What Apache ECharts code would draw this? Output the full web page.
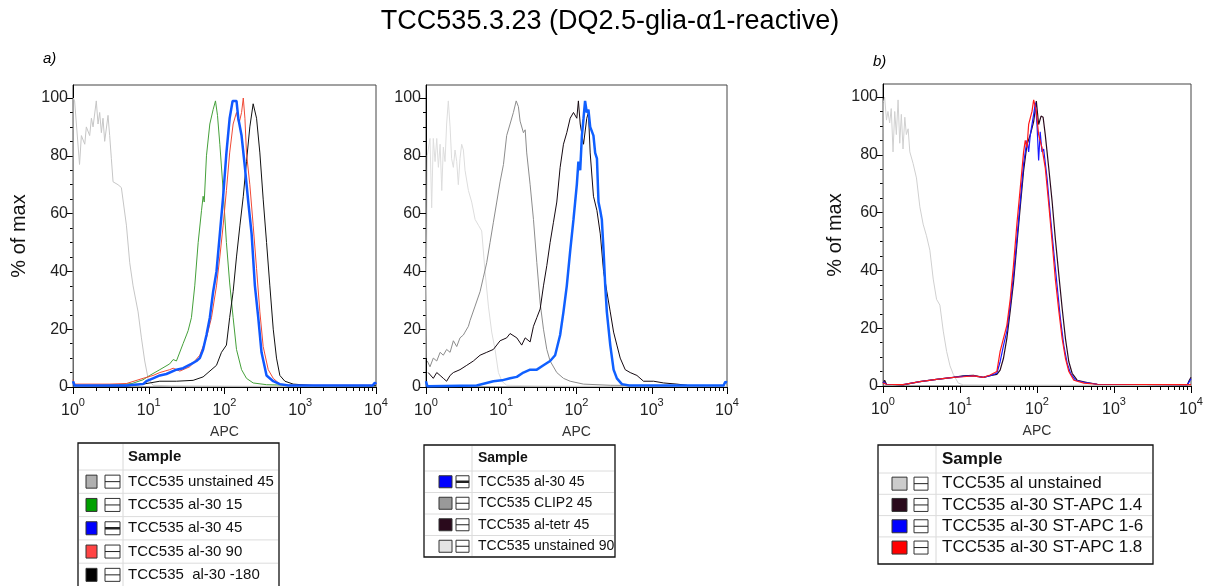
<!DOCTYPE html>
<html><head><meta charset="utf-8">
<script src="https://cdn.jsdelivr.net/npm/echarts@6/dist/echarts.min.js"></script>
<style>html,body{margin:0;padding:0;background:#fff}#c{width:1208px;height:586px}</style>
</head><body><div id="c"></div>
<script>
const FONT = 'Liberation Sans, Arial, Helvetica, sans-serif';
const titleText = 'TCC535.3.23 (DQ2.5-glia-\u03b11-reactive)';
const panelLabels = ['a)', 'b)'];
const xAxisName = 'APC';
const yAxisName = '% of max';
const legendHeader = 'Sample';
const xTickValues = [1, 10, 100, 1000, 10000];
const xMinorTicks = [2,3,4,5,6,7,8,9,20,30,40,50,60,70,80,90,200,300,400,500,600,700,800,900,2000,3000,4000,5000,6000,7000,8000,9000];
const yTickValues = [0, 20, 40, 60, 80, 100];
const yMinorTicks = [5,10,15,25,30,35,45,50,55,65,70,75,85,90,95];

// ---------- panel a (left) ----------
const p1Names = ['TCC535 unstained 45', 'TCC535 al-30 15', 'TCC535 al-30 45', 'TCC535 al-30 90', 'TCC535  al-30 -180'];
const p1Swatch = ['#b0b0b0', '#00a000', '#0000ff', '#ff4444', '#000000'];
const p1_unst45 = [[1,0],[1.01,100],[1.05,99],[1.22,77],[1.29,87],[1.43,84],[1.5,90],[1.66,87],[1.75,93],[1.84,90],[2.03,99],[2.14,91],[2.25,95],[2.37,88],[2.49,93],[2.62,85],[2.9,94],[3.05,87],[3.21,79],[3.38,71],[3.93,70],[4.35,69],[5.07,56],[5.61,43],[6.21,35],[7.23,26],[8.0,17],[8.85,9],[9.79,3],[11.4,0.6],[20,0.4],[100,0.3],[1000,0.2],[10000,0.2]];
const p1_al30_15 = [[1,2],[1.05,0.6],[2,0.6],[4,0.8],[6,1.2],[8.41,2.5],[10.3,4],[14,6],[18.9,8],[21,9.5],[23.2,9],[28.4,15],[31.5,18],[33.1,19.5],[36.6,24],[40.5,35],[44.9,50],[49.7,61],[52.2,66],[54,64],[57.8,80],[64,91],[70.8,96],[76,99],[80.8,94],[86.8,84],[96,68],[106,50],[117,36],[130,24],[144,13],[168,6],[195,3],[239,1.4],[359,0.8],[1000,0.5],[10000,0.5]];
const p1_al30_90 = [[1,2.5],[1.05,1],[3,1],[5.07,1.2],[8.41,3],[11.4,4],[14,5],[18.9,6],[21,6.5],[25.7,5.5],[34.8,7],[47.2,11],[57.8,17],[67.3,24],[78.4,35],[86.8,45],[96,56],[106,68],[117,81],[130,91],[144,95],[155,91],[168,95],[177,100],[186,93],[195,81],[216,70],[239,56],[265,41],[293,26],[324,14],[378,6],[440,3],[538,1],[700,0.6],[9000,0.6],[9700,1.6],[10000,0.8]];
const p1_al30_180 = [[1,0.5],[5.07,0.3],[8.41,1],[14,2],[23.2,2],[38.5,2.3],[52.2,3.5],[78.4,7.5],[91.2,12],[106,14.5],[117,24],[130,33],[144,45],[160,56],[177,66],[195,78],[216,90],[239,98],[252,98],[265,93],[293,81],[324,65],[359,50],[397,35],[440,20],[486,10],[538,4],[627,2],[808,1],[1500,0.5],[10000,0.4]];
const p1_al30_45 = [[1,2],[1.05,0.5],[5,0.5],[8.41,1],[9.31,2],[11.4,3],[14,4],[17.1,4.5],[23.2,6],[28.4,6.5],[36.6,8],[42.6,9],[47.2,10],[52.2,13],[57.8,18],[64,24],[70.8,33],[78.4,40],[86.8,53],[96,66],[106,81],[117,93],[128,99],[144,99],[152,93],[168,87],[186,76],[206,64],[228,53],[252,35],[279,24],[308,12],[359,4],[440,2],[538,1],[700,0.5],[9000,0.5],[9700,1.5],[10000,1]];

// ---------- panel a (middle) ----------
const p2Names = ['TCC535 al-30 45', 'TCC535 CLIP2 45', 'TCC535 al-tetr 45', 'TCC535 unstained 90'];
const p2Swatch = ['#0000ff', '#999999', '#2a0a1c', '#e4e4e4'];
const p2_unst90 = [[1,10],[1.04,80],[1.13,86],[1.19,62],[1.25,86],[1.32,78],[1.39,86],[1.46,76],[1.54,84],[1.62,68],[1.7,83],[1.79,78],[1.88,91],[1.98,99],[2.09,90],[2.19,79],[2.31,76],[2.43,82],[2.56,78],[2.69,70],[2.83,79],[2.98,84],[3.14,82],[3.3,75],[3.66,68],[4.05,64],[4.49,58],[4.97,56],[5.5,54],[6.09,40],[6.75,28],[7.47,19],[8.27,13],[9.17,5],[10.2,2],[11.8,0.6],[30,0.4],[100,0.3],[1000,0.3],[10000,0.3]];
const p2_clip2 = [[1.04,9],[1.13,7],[1.25,10],[1.39,9],[1.54,12],[1.7,11],[1.88,13],[2.09,12],[2.31,16],[2.56,14],[2.83,17],[3.14,18],[3.3,19],[3.66,21],[3.85,23],[4.49,28],[5.23,33],[5.79,38],[6.41,43],[7.1,50],[7.86,57],[8.71,64],[9.65,71],[10.7,77],[11.8,87],[13.1,91],[14.5,95],[15.8,99],[16.9,97],[17.8,92],[19.7,88],[20.8,89],[21.8,81],[24.2,70],[26.8,58],[29.7,43],[32.9,29],[36.4,20],[40.3,13],[44.6,9],[54.7,5],[67.1,3],[82.4,2],[124,1],[281,0.6],[1000,0.5]];
const p2_altetr = [[1.07,5],[1.25,3],[1.39,5],[1.54,4],[1.7,3],[1.88,2],[2.09,4],[2.31,5],[2.83,6],[3.48,7.5],[4.26,9],[5.23,11],[6.41,12],[7.86,13],[9.65,16],[11.8,17],[13.1,18.5],[16.1,17],[18.7,14.5],[20.8,17],[24.2,15.6],[26.8,21],[29.7,24],[32.9,27],[36.4,35],[40.3,42],[44.6,50],[49.4,57],[54.7,64],[60.6,76],[67.1,84],[74.3,88],[82.4,93],[91.2,95],[101,93],[106,99],[112,91],[124,84],[137,93],[144,95],[152,81],[168,66],[187,61],[207,53],[229,40],[253,33],[281,26],[311,19],[344,14.5],[381,10],[444,6],[517,5],[635,4],[778,2],[1060,2],[1440,1.4],[2160,1],[2940,0.6]];
const p2_al30_45 = [[1,2],[1.04,0.3],[4.72,0.5],[7.86,2],[10.2,2.3],[13.1,3],[16.1,3.5],[19.7,5],[24.2,6],[29.7,6],[36.4,7.5],[44.6,9],[52,11],[60.6,18],[67.1,26],[74.3,35],[82.4,47],[91.2,58],[101,70],[106,78],[112,75],[118,87],[124,93],[130,99],[137,95],[144,96],[152,90],[168,87],[177,81],[187,79],[196,64],[207,61],[217,58],[229,47],[241,35],[253,26],[281,14.5],[311,6],[344,3],[401,1],[500,0.5],[9000,0.5],[9500,1.8],[10000,1.5]];

// ---------- panel b ----------
const p3Names = ['TCC535 al unstained', 'TCC535 al-30 ST-APC 1.4', 'TCC535 al-30 ST-APC 1-6', 'TCC535 al-30 ST-APC 1.8'];
const p3Swatch = ['#cccccc', '#2a0a1c', '#0000ff', '#ff0000'];
const p3_unst = [[1,0],[1.01,98],[1.05,100],[1.11,92],[1.16,95],[1.22,91],[1.28,96],[1.35,81],[1.42,95],[1.49,87],[1.57,99],[1.65,84],[1.73,94],[1.82,82],[1.92,93],[2.01,87],[2.12,89],[2.23,81],[2.46,77],[2.72,72],[3.01,62],[3.32,56],[3.67,52],[4.06,47],[4.49,37],[4.96,30],[5.48,28],[6.06,19],[6.7,12],[7.41,7],[8.19,4],[9.51,1],[11,0.4],[100,0.3],[10000,0.3]];
const p3_st14 = [[1,1],[1.05,2],[1.11,0.6],[1.82,0.4],[3.01,1.5],[4.96,2.3],[8.19,3],[11,3.5],[14.9,3.7],[20.1,3],[24.6,3.6],[30.1,4],[33.2,5.5],[36.7,9.6],[40.6,16.5],[44.9,26],[49.6,36],[54.8,49],[60.6,62],[67,74.5],[74.1,83.5],[81.9,87],[90.5,91.5],[98,98.6],[105,90.5],[113,93.4],[120,93],[128,87],[142,75.5],[157,64],[173,51],[192,38.5],[212,27],[234,16.5],[259,8.4],[286,4.4],[332,2],[449,1.2],[606,0.6],[9000,0.5],[9510,2],[10000,3]];
const p3_st16 = [[1,1.5],[1.05,2],[1.11,0.6],[1.82,0.5],[3.01,1.5],[4.96,2.3],[8.19,3],[11,3.3],[14.9,3.5],[20.1,3],[24.6,3.6],[30.1,4.4],[33.2,8.4],[36.7,14],[40.6,19],[44.9,28],[49.6,38.5],[54.8,51],[60.6,64],[67,77],[74.1,85],[77.9,81],[81.9,87],[90.5,94],[95.1,98],[100,90.5],[105,78],[110,88],[116,81],[122,82],[135,72],[149,59],[165,46.5],[182,35],[201,23.5],[223,14],[246,8],[272,4.4],[316,2],[406,1.3],[606,0.6],[9000,0.5],[9510,1.5],[10000,2.5]];
const p3_st18 = [[1,1],[1.11,0.6],[1.82,0.5],[3.01,1.5],[4.96,2.3],[8.19,3],[11,3.2],[14.9,3.5],[20.1,3],[24.6,3.8],[30.1,5],[33.2,12],[36.7,16.5],[40.6,21],[44.9,30],[49.6,42],[54.8,56],[60.6,68.5],[67,81],[70.4,85],[74.1,82.5],[77.9,90.5],[86.1,95],[90.5,99],[98,95],[105,87],[116,82.5],[122,83],[128,75.5],[142,63],[157,50],[173,37],[192,26],[212,16.5],[234,9.6],[259,5],[301,2],[406,1],[606,0.6],[10000,0.5]];

// ---------- layout ----------
const grids = [
  {left: 73, top: 85, width: 303, height: 302},
  {left: 426, top: 85, width: 301, height: 302},
  {left: 883, top: 84, width: 308, height: 302}
];
const Y_MAX = 104.5;
const yNameGaps = [44, 0, 38];

const xAxes = [], yAxes = [];
grids.forEach((g, i) => {
  xAxes.push({
    type: 'log', gridIndex: i, min: 1, max: 10000, logBase: 10, position: 'bottom',
    name: xAxisName, nameLocation: 'middle', nameGap: 38,
    nameTextStyle: {fontFamily: FONT, fontSize: 14, color: '#333'},
    axisLine: {show: true, lineStyle: {color: '#000', width: 1}},
    axisTick: {show: true, length: 7, lineStyle: {color: '#000'}, customValues: xTickValues},
    axisLabel: {
      customValues: xTickValues, margin: 10,
      formatter: v => '{b|10}{s|' + Math.round(Math.log10(v)) + '}',
      rich: {
        b: {fontFamily: FONT, fontSize: 16, color: '#222', lineHeight: 22, verticalAlign: 'bottom'},
        s: {fontFamily: FONT, fontSize: 11, color: '#222', lineHeight: 10, verticalAlign: 'top'}
      }
    },
    splitLine: {show: false}
  });
  xAxes.push({
    type: 'log', gridIndex: i, min: 1, max: 10000, logBase: 10, position: 'bottom',
    axisLine: {show: false}, axisLabel: {show: false}, splitLine: {show: false},
    axisTick: {show: true, length: 4, lineStyle: {color: '#000'}, customValues: xMinorTicks}
  });
  yAxes.push({
    type: 'value', gridIndex: i, min: 0, max: Y_MAX, position: 'left',
    name: (i === 1) ? '' : yAxisName, nameLocation: 'middle', nameGap: yNameGaps[i],
    nameTextStyle: {fontFamily: FONT, fontSize: 20, color: '#111'},
    axisLine: {show: true, lineStyle: {color: '#000', width: 1}},
    axisTick: {show: true, length: 6, lineStyle: {color: '#000'}, customValues: yTickValues},
    axisLabel: {customValues: yTickValues, margin: 5, fontFamily: FONT, fontSize: 16, color: '#222'},
    splitLine: {show: false}
  });
  yAxes.push({
    type: 'value', gridIndex: i, min: 0, max: Y_MAX, position: 'left',
    axisLine: {show: false}, axisLabel: {show: false}, splitLine: {show: false},
    axisTick: {show: true, length: 3, lineStyle: {color: '#000'}, customValues: yMinorTicks}
  });
});

function line(name, data, color, width, gi) {
  return {
    type: 'line', name: name, data: data, xAxisIndex: gi * 2, yAxisIndex: gi * 2,
    showSymbol: false, symbol: 'none', smooth: false,
    lineStyle: {color: color, width: width}, itemStyle: {color: color}, z: 2
  };
}

const series = [
  line(p1Names[0], p1_unst45, '#c6c6c6', 1, 0),
  line(p1Names[1], p1_al30_15, '#45a03a', 1, 0),
  line(p1Names[4], p1_al30_180, '#111111', 1, 0),
  line(p1Names[3], p1_al30_90, '#f04a36', 1, 0),
  line(p1Names[2], p1_al30_45, '#1058ff', 2.5, 0),
  line(p2Names[3], p2_unst90, '#dddddd', 1, 1),
  line(p2Names[1], p2_clip2, '#8c8c8c', 1, 1),
  line(p2Names[2], p2_altetr, '#140810', 1, 1),
  line(p2Names[0], p2_al30_45, '#1060ff', 2.5, 1),
  line(p3Names[0], p3_unst, '#d0d0d0', 1, 2),
  line(p3Names[1], p3_st14, '#2b0a1d', 1.2, 2),
  line(p3Names[2], p3_st16, '#1a1aff', 1.2, 2),
  line(p3Names[3], p3_st18, '#ff1a1a', 1.2, 2)
];

// ---------- legend tables (graphic) ----------
const tables = [
  {names: p1Names, swatch: p1Swatch, thick: 2, x: 78, y: 443, w: 201, h: 150, headH: 27, rowH: 23.3, colX: 123, swX: 86, swW: 11, swH: 13, liX: 105, liW: 15, textX: 128, fs: 15},
  {names: p2Names, swatch: p2Swatch, thick: 0, x: 424, y: 445, w: 191, h: 112, headH: 26, rowH: 21.5, colX: 472, swX: 439, swW: 13, swH: 12, liX: 456, liW: 13, textX: 478, fs: 14},
  {names: p3Names, swatch: p3Swatch, thick: -1, x: 878, y: 445, w: 275, h: 119, headH: 28, rowH: 21.3, colX: 936, swX: 892, swW: 15, swH: 13, liX: 914, liW: 14, textX: 942, fs: 17}
];
const graphics = [];
tables.forEach(t => {
  graphics.push({type: 'rect', shape: {x: t.x, y: t.y, width: t.w, height: t.h}, style: {fill: '#fff', stroke: '#111', lineWidth: 1.3}, z: 10});
  graphics.push({type: 'line', shape: {x1: t.colX, y1: t.y + 1, x2: t.colX, y2: t.y + t.h - 1}, style: {stroke: '#d8d8d8', lineWidth: 1}, z: 11});
  graphics.push({type: 'text', x: t.textX, y: t.y + t.headH / 2, style: {text: legendHeader, font: 'bold ' + t.fs + 'px ' + FONT, fill: '#111', textVerticalAlign: 'middle'}, z: 12});
  t.names.forEach((n, k) => {
    const top = t.y + t.headH + k * t.rowH;
    const cy = top + t.rowH / 2;
    graphics.push({type: 'line', shape: {x1: t.x + 1, y1: top, x2: t.x + t.w - 1, y2: top}, style: {stroke: '#dcdcdc', lineWidth: 1}, z: 11});
    graphics.push({type: 'rect', shape: {x: t.swX, y: cy - t.swH / 2, width: t.swW, height: t.swH}, style: {fill: t.swatch[k], stroke: '#333', lineWidth: 1}, z: 12});
    graphics.push({type: 'rect', shape: {x: t.liX, y: cy - t.swH / 2, width: t.liW, height: t.swH}, style: {fill: '#fff', stroke: '#333', lineWidth: 1}, z: 12});
    graphics.push({type: 'line', shape: {x1: t.liX, y1: cy, x2: t.liX + t.liW, y2: cy}, style: {stroke: '#222', lineWidth: (k === t.thick) ? 2.5 : 1}, z: 12});
    graphics.push({type: 'text', x: t.textX, y: cy, style: {text: n, font: t.fs + 'px ' + FONT, fill: '#111', textVerticalAlign: 'middle'}, z: 12});
  });
});
graphics.push({type: 'text', x: 610, y: 22, style: {text: titleText, font: '27px ' + FONT, fill: '#000', textAlign: 'center', textVerticalAlign: 'middle'}});
graphics.push({type: 'text', x: 43, y: 59, style: {text: panelLabels[0], font: 'italic 15px ' + FONT, fill: '#000', textVerticalAlign: 'middle'}});
graphics.push({type: 'text', x: 873, y: 62, style: {text: panelLabels[1], font: 'italic 15px ' + FONT, fill: '#000', textVerticalAlign: 'middle'}});

const chart = echarts.init(document.getElementById('c'), null, {renderer: 'canvas'});
chart.setOption({
  animation: false,
  backgroundColor: '#fff',
  grid: grids.map(g => Object.assign({show: true, borderColor: '#444', borderWidth: 1, backgroundColor: 'transparent', containLabel: false}, g)),
  xAxis: xAxes,
  yAxis: yAxes,
  series: series,
  graphic: graphics
});
</script></body></html>
